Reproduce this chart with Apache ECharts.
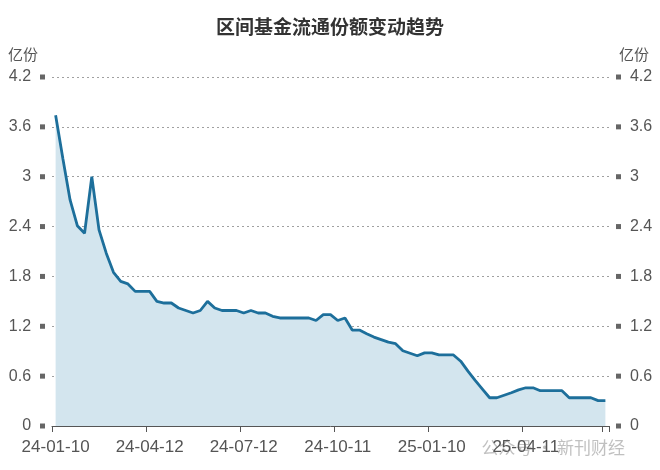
<!DOCTYPE html>
<html>
<head>
<meta charset="utf-8">
<script src="https://cdn.jsdelivr.net/npm/echarts@6/dist/echarts.min.js"></script>
<style>
html,body{margin:0;padding:0;background:#fff;}
#chart{width:660px;height:470px;}
</style>
</head>
<body>
<div id="chart"></div>
<script>
var dates = [
'24-01-10','24-01-19','24-01-26','24-02-02','24-02-09','24-02-16','24-02-23','24-03-01','24-03-08','24-03-15',
'24-03-22','24-03-29','24-04-05','24-04-12','24-04-19','24-04-26','24-05-03','24-05-10','24-05-17','24-05-24',
'24-05-31','24-06-07','24-06-14','24-06-21','24-06-28','24-07-05','24-07-12','24-07-19','24-07-26','24-08-02',
'24-08-09','24-08-16','24-08-23','24-08-30','24-09-06','24-09-13','24-09-20','24-09-27','24-10-04','24-10-11',
'24-10-18','24-10-25','24-11-01','24-11-08','24-11-15','24-11-22','24-11-29','24-12-06','24-12-13','24-12-20',
'24-12-27','25-01-03','25-01-10','25-01-17','25-01-24','25-01-31','25-02-07','25-02-14','25-02-21','25-02-28',
'25-03-07','25-03-14','25-03-21','25-03-28','25-04-04','25-04-11','25-04-18','25-04-25','25-05-02','25-05-09',
'25-05-16','25-05-23','25-05-30','25-06-06','25-06-13','25-06-20','25-06-27'
];
var shares = [
3.74,3.22,2.72,2.41,2.32,3.00,2.36,2.08,1.85,1.74,
1.71,1.62,1.62,1.62,1.50,1.48,1.48,1.42,1.39,1.36,
1.39,1.50,1.42,1.39,1.39,1.39,1.36,1.39,1.36,1.36,
1.32,1.30,1.30,1.30,1.30,1.30,1.27,1.34,1.34,1.27,
1.30,1.155,1.155,1.11,1.07,1.04,1.01,0.99,0.905,0.875,
0.845,0.88,0.88,0.855,0.855,0.855,0.78,0.66,0.55,0.445,
0.34,0.34,0.37,0.40,0.435,0.46,0.46,0.425,0.425,0.425,
0.425,0.34,0.34,0.34,0.34,0.305,0.305
];
var yTickLabels = ['0','0.6','1.2','1.8','2.4','3','3.6','4.2'];
var titleText = '区间基金流通份额变动趋势';
var unitText = '亿份';
var watermark = '公众号 · 新刊财经';

var chart = echarts.init(document.getElementById('chart'));
function tickLabel(v){ return yTickLabels[Math.round(v / 0.6)]; }
var baseFont = 'Liberation Sans, Noto Sans CJK SC, sans-serif';
var yAxisCommon = {
  type: 'value', min: 0, max: 4.2, interval: 0.6,
  axisLine: {show: false}, axisTick: {show: false},
  splitLine: {show: true, lineStyle: {type: [2, 3], color: '#a0a0a0', width: 1.2}},
  name: unitText, nameGap: 14,
  nameTextStyle: {color: '#555', fontSize: 15, fontFamily: baseFont}
};
var option = {
  animation: false,
  backgroundColor: '#fff',
  title: {
    text: titleText, left: 'center', top: 12,
    textStyle: {fontSize: 19, fontWeight: 'bold', color: '#333', fontFamily: 'Noto Sans CJK SC, sans-serif'}
  },
  grid: {left: 52, right: 51, top: 77, bottom: 44},
  xAxis: {
    type: 'category', data: dates, boundaryGap: true,
    axisLine: {lineStyle: {color: '#555', width: 1}},
    axisTick: {show: true, length: 6, lineStyle: {color: '#555', width: 1}, interval: function(i){ return i % 13 === 0 || i === dates.length - 1; }},
    axisLabel: {interval: 12, color: '#555', fontSize: 17, margin: 13, fontFamily: baseFont}
  },
  yAxis: [
    Object.assign({}, yAxisCommon, {
      position: 'left',
      nameTextStyle: Object.assign({}, yAxisCommon.nameTextStyle, {align: 'right', padding: [0, 14, 0, 0]}),
      axisLabel: {
        margin: 7, color: '#555', fontSize: 16, fontFamily: baseFont,
        formatter: function(v){ return '{a|' + tickLabel(v) + '}  {b| }'; },
        rich: {a: {color: '#555', fontSize: 16, fontFamily: baseFont}, b: {width: 5, height: 5, backgroundColor: '#666'}}
      }
    }),
    Object.assign({}, yAxisCommon, {
      position: 'right',
      nameTextStyle: Object.assign({}, yAxisCommon.nameTextStyle, {align: 'left', padding: [0, 0, 0, 10]}),
      axisLabel: {
        margin: 7, color: '#555', fontSize: 16, fontFamily: baseFont,
        formatter: function(v){ return '{b| }  {a|' + tickLabel(v) + '}'; },
        rich: {a: {color: '#555', fontSize: 16, fontFamily: baseFont}, b: {width: 5, height: 5, backgroundColor: '#666'}}
      }
    })
  ],
  graphic: [{
    type: 'text', right: 35, bottom: 14,
    style: {text: watermark, fill: 'rgba(150,150,150,0.6)', font: '17px Noto Sans CJK SC'}
  }],
  series: [{
    type: 'line', data: shares, yAxisIndex: 0,
    symbol: 'none', smooth: false,
    lineStyle: {color: '#1d6f9b', width: 2.8},
    areaStyle: {color: '#d3e5ee', opacity: 1}
  }]
};
chart.setOption(option);
</script>
</body>
</html>
